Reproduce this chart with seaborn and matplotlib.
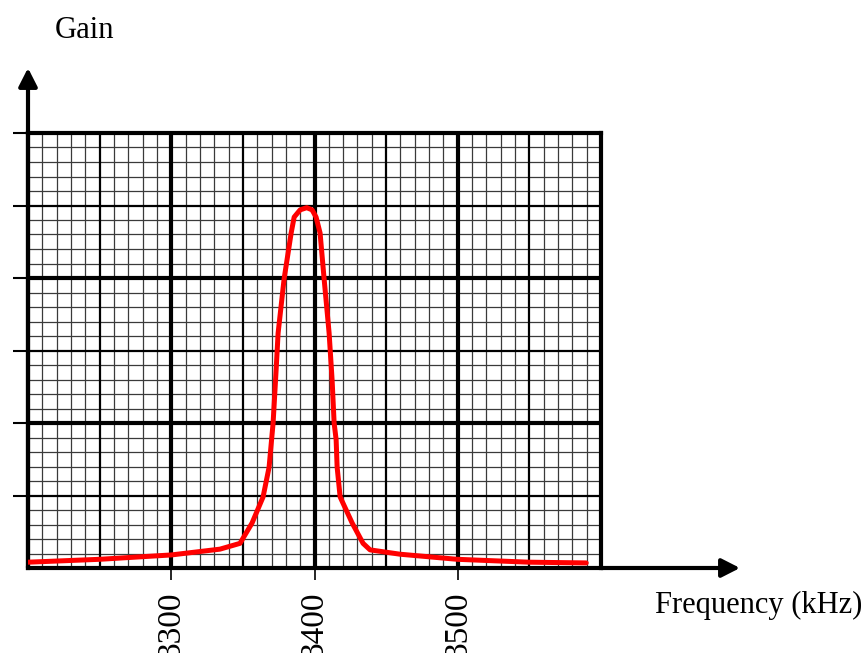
import numpy as np
import pandas as pd
import matplotlib
matplotlib.use("Agg")
import matplotlib.pyplot as plt
import seaborn as sns

# ---- data ----
freq_khz = [3200, 3250, 3300, 3334, 3348, 3356.4, 3364.1, 3368.3, 3371.1, 3373.2,
            3374.6, 3378.8, 3383.7, 3385.8, 3390, 3394.6, 3398.3, 3401.1, 3403.9,
            3406.7, 3410.2, 3412.3, 3413.7, 3415.1, 3415.8, 3417.9, 3426.3, 3433.9,
            3438.8, 3459.8, 3499.6, 3549.9, 3589.7]
gain = [0.08, 0.12, 0.18, 0.26, 0.34, 0.62, 0.98, 1.39, 2.0, 2.73,
        3.24, 3.99, 4.62, 4.84, 4.94, 4.97, 4.94, 4.84, 4.62,
        3.99, 3.24, 2.59, 2.0, 1.77, 1.39, 0.98, 0.62, 0.34,
        0.25, 0.19, 0.12, 0.08, 0.07]
x_tick_values = [3300, 3400, 3500]
x_tick_labels = ["3300", "3400", "3500"]
y_tick_values = [1, 2, 3, 4, 5, 6]
x_label = "Frequency (kHz)"
y_label = "Gain"

df = pd.DataFrame({"freq": freq_khz, "gain": gain})

sns.set_style("white")
plt.rcParams["font.family"] = ["Liberation Serif", "DejaVu Serif"]
plt.rcParams["text.color"] = "black"
plt.rcParams["xtick.color"] = "black"
plt.rcParams["ytick.color"] = "black"
plt.rcParams["xtick.labelcolor"] = "black"

W, H = 866, 653
fig = plt.figure(figsize=(W / 100, H / 100), dpi=100)
ax = fig.add_axes([28 / W, 1 - 568 / H, 573 / W, 435 / H])
ax.set_xlim(3200, 3600)
ax.set_ylim(0, 6)

# graph-paper grid
for xv in np.arange(3210, 3600, 10):
    if xv % 50 != 0:
        ax.axvline(xv, color="#3a3a3a", lw=0.9, zorder=1)
for yv in np.arange(0.2, 6, 0.2):
    if abs(yv - round(yv)) > 1e-6:
        ax.axhline(yv, color="#3a3a3a", lw=0.9, zorder=1)
for xv in [3250, 3350, 3450, 3550]:
    ax.axvline(xv, color="black", lw=1.6, zorder=2)
for yv in [1, 3, 5]:
    ax.axhline(yv, color="black", lw=1.6, zorder=2)
for xv in [3300, 3400, 3500]:
    ax.axvline(xv, color="black", lw=3, zorder=3)
for yv in [2, 4]:
    ax.axhline(yv, color="black", lw=3, zorder=3)

sns.lineplot(data=df, x="freq", y="gain", sort=False, color="#ff0000",
             lw=3.6, ax=ax, zorder=5)

for s in ax.spines.values():
    s.set_linewidth(3)
    s.set_color("black")
    s.set_zorder(4)

ax.set_xticks(x_tick_values)
ax.set_xticklabels(x_tick_labels, rotation=90, fontsize=24, color="black")
ax.set_yticks(y_tick_values)
ax.set_yticklabels([])
ax.tick_params(axis="x", direction="out", length=8.6, width=1.2, pad=8,
               bottom=True, colors="black")
ax.tick_params(axis="y", direction="out", length=11, width=1.5, left=True,
               colors="black")
ax.set_xlabel("")
ax.set_ylabel("")

# axis arrows
arrow_kw = dict(arrowstyle="-|>,head_length=0.55,head_width=0.28",
                lw=3, color="black", mutation_scale=20, shrinkA=0, shrinkB=0)
ax.annotate("", xy=(0, (568 - 68) / 435), xytext=(0, 0.0),
            xycoords="axes fraction", textcoords="axes fraction",
            arrowprops=arrow_kw, annotation_clip=False)
ax.annotate("", xy=((740 - 28) / 573, 0), xytext=(1.0, 0),
            xycoords="axes fraction", textcoords="axes fraction",
            arrowprops=arrow_kw, annotation_clip=False)

fig.text(55 / W, 1 - 38 / H, y_label, fontsize=22, va="baseline", ha="left",
         color="black")
fig.text(655 / W, 1 - 613 / H, x_label, fontsize=22, va="baseline", ha="left",
         color="black")

fig.savefig("out.png", dpi=100)
